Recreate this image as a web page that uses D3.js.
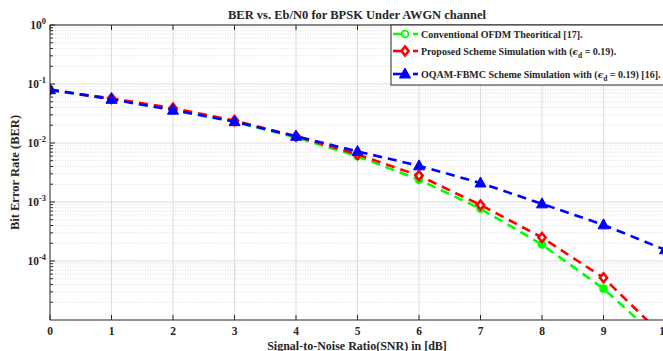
<!DOCTYPE html>
<html>
<head>
<meta charset="utf-8">
<script src="https://cdn.jsdelivr.net/npm/d3@7"></script>
<style>
  body{margin:0;background:#fff;}
  text{font-family:"Liberation Serif","Times New Roman",serif;font-weight:bold;fill:#262626;}
</style>
</head>
<body>
<svg id="chart" width="663" height="351"></svg>
<script>
/* ——— data ——————————————— */
const snr = [0,1,2,3,4,5,6,7,8,9,10];
const berOfdm     = [0.0786,0.0563,0.0375,0.0229,0.0125,0.00595,0.00239,7.7e-4,1.9e-4,3.4e-5,3.9e-6];
const berProposed = [0.080,0.057,0.039,0.024,0.013,0.0064,0.0028,8.9e-4,2.5e-4,5.2e-5,5.0e-6];
const berFbmc     = [0.080,0.055,0.036,0.023,0.013,0.0072,0.0041,0.0021,9.3e-4,4.1e-4,1.55e-4];
const yTickExp = [0,-1,-2,-3,-4];
const seriesNames = ["Conventional OFDM Theoritical [17].",
                     "Proposed Scheme Simulation with (",
                     "OQAM-FBMC Scheme Simulation with ("];

const margin = {top:25, left:50, bottom:320, right:665};
const svg = d3.select("#chart");

const x = d3.scaleLinear([0,10],[margin.left, margin.right]);
const y = d3.scaleLog([1e-5,1],[margin.bottom, margin.top]);

/* ——— grid ———————————————————————————————— */
const grid = svg.append("g");
const minorY = [];
for (let e=-5; e<0; e++) for (let m=2; m<10; m++) minorY.push(m*Math.pow(10,e));
grid.selectAll(".minor").data(minorY).enter().append("line")
  .attr("x1",margin.left).attr("x2",margin.right)
  .attr("y1",d=>y(d)).attr("y2",d=>y(d))
  .attr("stroke","#d4d4d4").attr("stroke-width",0.8)
  .attr("stroke-dasharray","1,1.5");
grid.selectAll(".majY").data(yTickExp.map(e=>Math.pow(10,e))).enter().append("line")
  .attr("x1",margin.left).attr("x2",margin.right)
  .attr("y1",d=>y(d)).attr("y2",d=>y(d))
  .attr("stroke","#dcdcdc").attr("stroke-width",1);
grid.selectAll(".majX").data(snr.slice(1)).enter().append("line")
  .attr("x1",d=>x(d)).attr("x2",d=>x(d))
  .attr("y1",margin.top).attr("y2",margin.bottom)
  .attr("stroke","#dcdcdc").attr("stroke-width",1);

/* ——— series ——————————————————————————————— */
const series = [
  {vals:berOfdm,     color:"#00ff00", marker:"circle"},
  {vals:berProposed, color:"#ff0000", marker:"diamond"},
  {vals:berFbmc,     color:"#0000ff", marker:"triangle"}
];
svg.append("defs").append("clipPath").attr("id","plotClip")
  .append("rect").attr("x",margin.left).attr("y",margin.top)
  .attr("width",margin.right-margin.left).attr("height",margin.bottom-margin.top);

const plot = svg.append("g").attr("clip-path","url(#plotClip)");
const line = d3.line().x((d,i)=>x(snr[i])).y(d=>y(d));

function drawMarker(g, type, color, cx, cy, open){
  if (type==="circle"){
    g.append("circle").attr("cx",cx).attr("cy",cy).attr("r",3.4)
      .attr("fill",open ? "#fff" : color).attr("stroke",color).attr("stroke-width",1.8);
  } else if (type==="diamond"){
    g.append("path").attr("d",`M${cx},${cy-4.5}L${cx+3.6},${cy}L${cx},${cy+4.5}L${cx-3.6},${cy}Z`)
      .attr("fill","#fff").attr("stroke",color).attr("stroke-width",2.6);
  } else {
    g.append("path").attr("d",`M${cx},${cy-6}L${cx+5.5},${cy+4}L${cx-5.5},${cy+4}Z`)
      .attr("fill",color).attr("stroke",color).attr("stroke-width",1);
  }
}

series.forEach(s=>{
  plot.append("path").datum(s.vals)
    .attr("d",line).attr("fill","none")
    .attr("stroke",s.color).attr("stroke-width",2.6)
    .attr("stroke-dasharray","9,6");
  s.vals.forEach((v,i)=>drawMarker(plot, s.marker, s.color, x(snr[i]), y(v), false));
});

/* ——— axes box + ticks —————————————————————— */
const ax = svg.append("g").attr("stroke","#262626").attr("fill","none");
ax.append("line").attr("x1",margin.left).attr("x2",margin.left)
  .attr("y1",margin.top).attr("y2",margin.bottom).attr("stroke-width",1);
ax.append("line").attr("x1",margin.left).attr("x2",margin.right)
  .attr("y1",margin.bottom).attr("y2",margin.bottom).attr("stroke-width",1);
ax.append("line").attr("x1",margin.left).attr("x2",margin.right)
  .attr("y1",margin.top).attr("y2",margin.top).attr("stroke-width",1);
snr.forEach(d=>{
  ax.append("line").attr("x1",x(d)).attr("x2",x(d))
    .attr("y1",margin.bottom).attr("y2",margin.bottom-5);
  ax.append("line").attr("x1",x(d)).attr("x2",x(d))
    .attr("y1",margin.top).attr("y2",margin.top+5);
});
yTickExp.forEach(e=>{
  ax.append("line").attr("x1",margin.left).attr("x2",margin.left+5)
    .attr("y1",y(Math.pow(10,e))).attr("y2",y(Math.pow(10,e)));
});
minorY.forEach(v=>{
  ax.append("line").attr("x1",margin.left).attr("x2",margin.left+3)
    .attr("y1",y(v)).attr("y2",y(v));
});

/* ——— tick labels —————————————————————————— */
svg.append("g").selectAll("text").data(snr).enter().append("text")
  .attr("x",d=>x(d)).attr("y",margin.bottom+15)
  .attr("text-anchor","middle").attr("font-size",11.5)
  .text(d=>d);

const yl = svg.append("g").selectAll("text").data(yTickExp).enter().append("text")
  .attr("x",margin.left-4).attr("y",d=>y(Math.pow(10,d))+4)
  .attr("text-anchor","end").attr("font-size",11.5);
yl.append("tspan").text("10");
yl.append("tspan").attr("dy",-5).attr("font-size",8.5).text(d=>d);

/* ——— titles ——————————————————————————————— */
svg.append("text").attr("x",357).attr("y",19)
  .attr("text-anchor","middle").attr("font-size",12.5)
  .text("BER vs. Eb/N0 for BPSK Under AWGN channel");
svg.append("text").attr("x",357).attr("y",349.5)
  .attr("text-anchor","middle").attr("font-size",12)
  .text("Signal-to-Noise Ratio(SNR) in [dB]");
svg.append("text")
  .attr("transform",`translate(19,${(margin.top+margin.bottom)/2}) rotate(-90)`)
  .attr("text-anchor","middle").attr("font-size",12.5)
  .text("Bit Error Rate (BER)");

/* ——— legend ——————————————————————————————— */
const leg = svg.append("g");
leg.append("rect").attr("x",391).attr("y",margin.top).attr("width",290).attr("height",60)
  .attr("fill","#fff").attr("stroke","#262626").attr("stroke-width",1);
const legY = [34, 51, 74];
series.forEach((s,i)=>{
  const ly = legY[i];
  leg.append("line").attr("x1",393).attr("x2",402).attr("y1",ly).attr("y2",ly)
    .attr("stroke",s.color).attr("stroke-width",2.6);
  leg.append("line").attr("x1",413).attr("x2",418).attr("y1",ly).attr("y2",ly)
    .attr("stroke",s.color).attr("stroke-width",2.6);
  drawMarker(leg, s.marker, s.color, 405, ly, i===0);
  const t = leg.append("text").attr("x",421).attr("y",ly+3.5).attr("font-size",10);
  t.append("tspan").text(seriesNames[i]);
  if (i>0){
    t.append("tspan").attr("font-style","italic").attr("font-family","DejaVu Serif").attr("font-size",9).text("ϵ");
    t.append("tspan").attr("dy",3).attr("font-size",7.5).text("d");
    t.append("tspan").attr("dy",-3).text(i===1 ? " = 0.19)." : " = 0.19) [16].");
  }
});
</script>
</body>
</html>
